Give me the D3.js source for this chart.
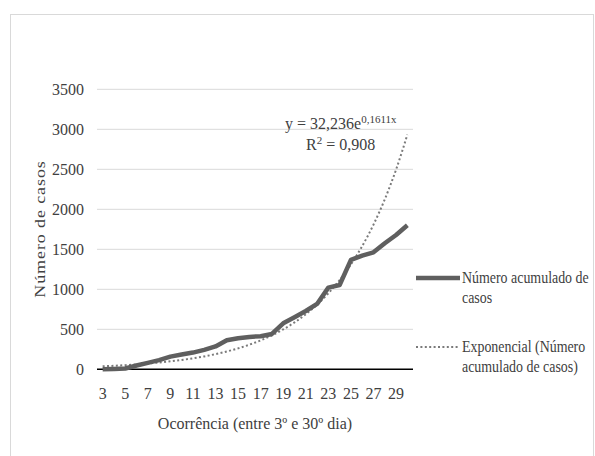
<!DOCTYPE html>
<meta charset="utf-8">
<body style="margin:0;background:#fff">
<style>
  text { font-family: "Liberation Serif", serif; fill: #404040; }
  .tick text { font-size: 16px; }
  .grid line { stroke: #d9d9d9; stroke-width: 1px; }
  .casos { fill: none; stroke: #5f5f5f; stroke-width: 4.5px; stroke-linejoin: round; }
  .expo { fill: none; stroke: #7a7a7a; stroke-width: 2px; stroke-dasharray: 2,2.4; }
</style>
<svg width="595" height="456"></svg>
<script src="https://d3js.org/d3.v7.min.js"></script>
<script>

var days = [3, 4, 5, 6, 7, 8, 9, 10, 11, 12, 13, 14, 15, 16, 17, 18, 19, 20, 21, 22, 23, 24, 25, 26, 27, 28, 29, 30];
var casos = [1, 4, 10, 47, 81, 115, 158, 184, 209, 243, 286, 363, 389, 405, 414, 442, 575, 650, 729, 817, 1021, 1054, 1367, 1421, 1462, 1575, 1679, 1800];
// linha de tendência exponencial
var tendencia = [38, 44, 52, 61, 72, 85, 100, 117, 137, 161, 190, 223, 262, 308, 361, 424, 499, 586, 688, 808, 950, 1116, 1311, 1540, 1809, 2125, 2496, 2933];
var yTicks = [0, 500, 1000, 1500, 2000, 2500, 3000, 3500];
var legendLabels = [["Número acumulado de", "casos"], ["Exponencial (Número", "acumulado de casos)"]];

var svg = d3.select("svg"),
    pLeft = 97, pRight = 413, pTop = 89.3, pBottom = 369.3;

// moldura
svg.append("rect")
    .attr("x", 10.5).attr("y", 14.5)
    .attr("width", 583).attr("height", 460)
    .attr("fill", "none").attr("stroke", "#d9d9d9");

var x = d3.scaleBand().domain(days).range([pLeft, pRight]);
var y = d3.scaleLinear().domain([0, 3500]).range([pBottom, pTop]);

svg.append("g")
    .attr("class", "grid")
    .selectAll("line")
    .data(yTicks.slice(1))
    .enter().append("line")
    .attr("x1", pLeft).attr("x2", pRight)
    .attr("y1", function(d) { return y(d); })
    .attr("y2", function(d) { return y(d); });

var yAxis = svg.append("g")
    .attr("transform", "translate(" + pLeft + ",0)")
    .call(d3.axisLeft(y).tickValues(yTicks).tickFormat(d3.format("d")).tickSize(0).tickPadding(13));
yAxis.select(".domain").remove();
yAxis.selectAll("text").attr("fill", "#404040");

var xAxis = svg.append("g")
    .attr("transform", "translate(0," + pBottom + ")")
    .call(d3.axisBottom(x).tickValues(days.filter(function(d, i) { return i % 2 == 0; })).tickSize(0).tickPadding(18));
xAxis.select(".domain").attr("stroke", "#000").attr("stroke-width", 1.5)
    .attr("d", "M" + pLeft + ",0H" + pRight);
xAxis.selectAll("text").attr("fill", "#404040");

var line = d3.line()
    .x(function(d, i) { return x(days[i]) + x.bandwidth() / 2; })
    .y(function(d) { return y(d); });

svg.append("path")
    .datum(tendencia)
    .attr("class", "expo")
    .attr("d", line.curve(d3.curveMonotoneX));

svg.append("path")
    .datum(casos)
    .attr("class", "casos")
    .attr("d", line.curve(d3.curveLinear));

// títulos
svg.append("text")
    .attr("transform", "translate(45,229) rotate(-90) scale(1,0.8)")
    .attr("text-anchor", "middle")
    .style("font-size", "18px")
    .style("letter-spacing", "0.9px")
    .text("Número de casos");

svg.append("text")
    .attr("x", (pLeft + pRight) / 2).attr("y", 429)
    .attr("text-anchor", "middle")
    .style("font-size", "16px")
    .text("Ocorrência (entre 3º e 30º dia)");

// equação
var eq = svg.append("text")
    .attr("x", 285).attr("y", 129)
    .style("font-size", "16px");
eq.append("tspan").text("y = 32,236e");
eq.append("tspan").attr("dy", -6).style("font-size", "11px").text("0,1611x");

var r2 = svg.append("text")
    .attr("x", 306).attr("y", 150)
    .style("font-size", "16px");
r2.append("tspan").text("R");
r2.append("tspan").attr("dy", -6).style("font-size", "11px").text("2");
r2.append("tspan").attr("dy", 6).text(" = 0,908");

// legenda
var legend = svg.append("g");
var ly = [278, 347];
legend.selectAll("line")
    .data(ly)
    .enter().append("line")
    .attr("class", function(d, i) { return i == 0 ? "casos" : "expo"; })
    .attr("x1", 416).attr("x2", 460)
    .attr("y1", function(d) { return d; })
    .attr("y2", function(d) { return d; });

legend.selectAll("text")
    .data(legendLabels)
    .enter().append("text")
    .attr("transform", function(d, i) { return "translate(462," + (ly[i] + 5) + ") scale(0.87,1)"; })
    .style("font-size", "16px")
    .each(function(d) {
      var t = d3.select(this);
      t.append("tspan").attr("x", 0).text(d[0]);
      t.append("tspan").attr("x", 0).attr("dy", 20).text(d[1]);
    });

</script>
</body>
